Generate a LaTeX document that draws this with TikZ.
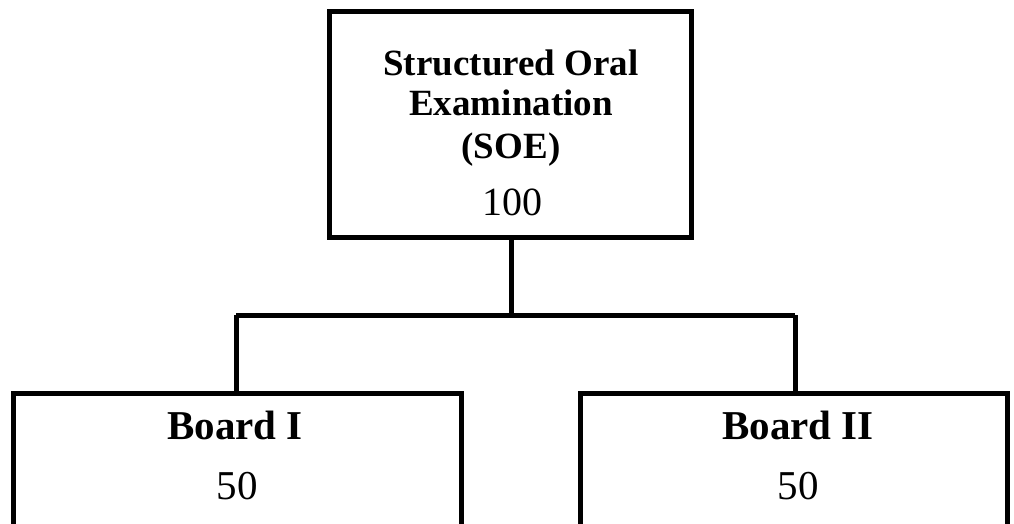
\documentclass[tikz,border=0pt]{standalone}
\usepackage{fontspec}
\setmainfont{Liberation Serif}
\begin{document}
\begin{tikzpicture}[x=1pt,y=-1pt,
  boxstyle/.style={draw=black,line width=5pt,fill=white,rectangle,inner sep=0pt},
  wire/.style={draw=black,line width=5pt},
  toptext/.style={font=\fontsize{37}{41}\selectfont\bfseries,anchor=base,inner sep=0pt},
  bigbold/.style={font=\fontsize{41}{45}\selectfont\bfseries,anchor=base,inner sep=0pt},
  bignum/.style={font=\fontsize{41}{45}\selectfont,anchor=base,inner sep=0pt}]
\useasboundingbox (0,0) rectangle (1014,524);
\clip (0,0) rectangle (1014,524);
% boxes
\node[boxstyle,minimum width=362pt,minimum height=225pt] (soe) at (510,124.5) {};
\node[boxstyle,minimum width=448pt,minimum height=160pt] (b1) at (237,473) {};
\node[boxstyle,minimum width=427pt,minimum height=160pt] (b2) at (793.5,473) {};
% connector junctions
\coordinate (j) at (511,315);
\coordinate (jl) at (236,315);
\coordinate (jr) at (795,315);
\draw[wire] (soe.south -| j) -- (j);
\draw[wire] (jl) -- (jr);
\draw[wire] (jl) -- (jl |- b1.north);
\draw[wire] (jr) -- (jr |- b2.north);
% texts
\node[toptext] (t1) at (511,76) {Structured Oral};
\node[toptext] (t2) at (511,116) {Examination};
\node[toptext] (t3) at (511,158) {(SOE)};
\node[font=\fontsize{40}{44}\selectfont,anchor=base,inner sep=0pt] (t4) at (512,215) {100};
\node[bigbold] (b1t) at (235,439) {Board I};
\node[bignum] (b1n) at (237,499) {50};
\node[bigbold] (b2t) at (798,439) {Board II};
\node[bignum] (b2n) at (798,499) {50};
\end{tikzpicture}
\end{document}
